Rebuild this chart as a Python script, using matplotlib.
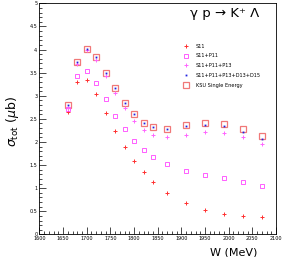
import numpy as np
import matplotlib
matplotlib.use("Agg")
import matplotlib.pyplot as plt

# energies (MeV)
W = [1660, 1680, 1700, 1720, 1740, 1760, 1780, 1800, 1820, 1840,
     1870, 1910, 1950, 1990, 2030, 2070]

# total cross sections (microbarn)
s11 = [2.64, 3.30, 3.34, 3.03, 2.62, 2.24, 1.89, 1.59, 1.34, 1.14,
       0.89, 0.67, 0.53, 0.45, 0.40, 0.37]
s11_p11 = [2.71, 3.42, 3.53, 3.27, 2.92, 2.57, 2.27, 2.03, 1.83, 1.67,
           1.52, 1.37, 1.29, 1.21, 1.14, 1.05]
s11_p11_p13 = [2.74, 3.68, 3.98, 3.77, 3.43, 3.06, 2.73, 2.46, 2.26, 2.15,
               2.10, 2.15, 2.21, 2.19, 2.11, 1.96]
full = [2.80, 3.72, 4.01, 3.83, 3.50, 3.16, 2.84, 2.60, 2.42, 2.32,
        2.28, 2.35, 2.37, 2.34, 2.21, 2.06]
ksu = [2.80, 3.72, 4.01, 3.83, 3.50, 3.16, 2.84, 2.60, 2.42, 2.32,
       2.29, 2.36, 2.41, 2.39, 2.28, 2.13]

labels = ["S11", "S11+P11", "S11+P11+P13", "S11+P11+P13+D13+D15",
          "KSU Single Energy"]


def main():
    fig = plt.figure(figsize=(3.08, 2.57), dpi=100)
    ax = fig.add_axes([0.128, 0.088, 0.768, 0.899])

    ax.plot(W, ksu, ls="none", marker="s", ms=4.8, mfc="none", mec="#f07878",
            mew=0.9, label=labels[4], zorder=2)
    ax.plot(W, s11, ls="none", marker="+", ms=3, color="#ff3030", mew=0.7,
            label=labels[0], zorder=3)
    ax.plot(W, s11_p11, ls="none", marker="s", ms=2.2, mfc="none",
            mec="#ff44ff", mew=0.6, label=labels[1], zorder=3)
    ax.plot(W, s11_p11_p13, ls="none", marker="+", ms=3, color="#ff66ff",
            mew=0.7, label=labels[2], zorder=3)
    ax.plot(W, full, ls="none", marker="s", ms=1.3, color="#2020e0",
            mew=0, label=labels[3], zorder=4)

    ax.set_xlim(1600, 2100)
    ax.set_ylim(0, 5)
    ax.set_xticks(np.arange(1600, 2101, 50))
    ax.set_xticks(np.arange(1600, 2101, 10), minor=True)
    ax.set_yticks(np.arange(0, 5.01, 0.5))
    ax.set_yticks(np.arange(0, 5.01, 0.1), minor=True)
    ax.set_yticklabels(["0", "0.5", "1", "1.5", "2", "2.5", "3", "3.5",
                        "4", "4.5", "5"])
    ax.tick_params(which="both", direction="in", labelsize=3.5, pad=1.5,
                   width=0.5)
    ax.tick_params(which="major", length=5)
    ax.tick_params(which="minor", length=2.5)
    for sp in ax.spines.values():
        sp.set_linewidth(0.6)

    ax.set_xlabel("W (MeV)", fontsize=8)
    ax.xaxis.set_label_coords(0.82, -0.055)
    ax.set_ylabel(r"$\sigma_{\mathrm{tot}}$ ($\mu$b)", fontsize=9)
    ax.yaxis.set_label_coords(-0.078, 0.49)

    fig.text(0.617, 0.932, "\u03b3 p \u2192 K\u207a \u039b", fontsize=9.5)

    handles, labs = ax.get_legend_handles_labels()
    order = [1, 2, 3, 4, 0]
    ax.legend([handles[i] for i in order], [labs[i] for i in order],
              loc="upper left", bbox_to_anchor=(0.59, 0.845),
              frameon=False, fontsize=3.6, handletextpad=1.5,
              labelspacing=0.95, handlelength=1.0)

    fig.savefig("out.png", dpi=100)


if __name__ == "__main__":
    main()
